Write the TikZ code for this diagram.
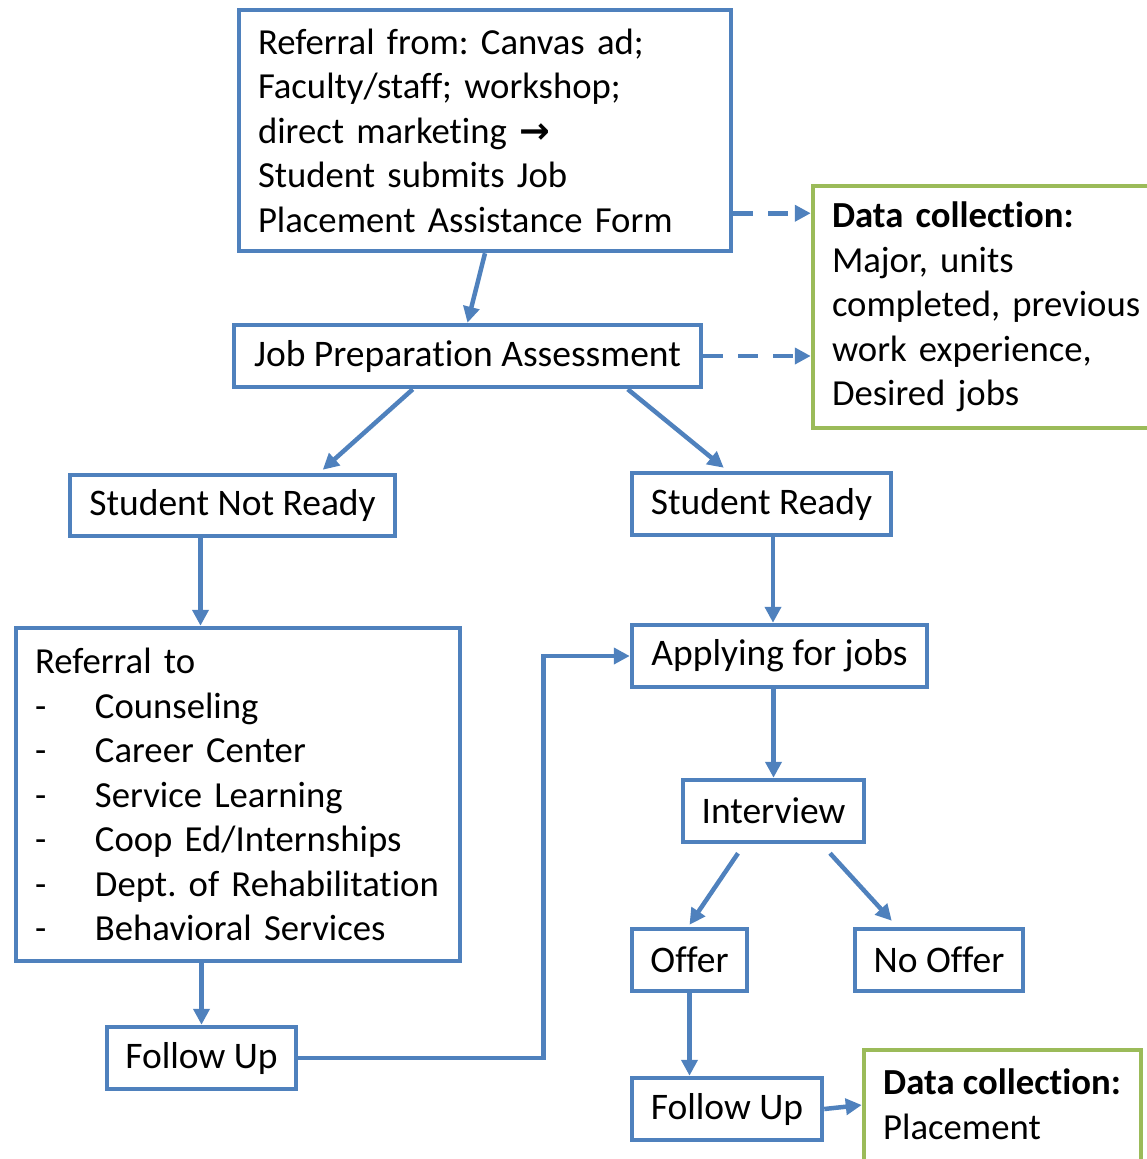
\documentclass[tikz,border=0pt]{standalone}
\usepackage{fontspec}
\setmainfont{Carlito}[Ligatures=NoCommon]
\newfontfamily\dgsym{DejaVu Sans}
\usetikzlibrary{arrows.meta,calc}
\definecolor{dgblue}{HTML}{4F81BD}
\definecolor{dggreen}{HTML}{9BBB59}
\newcommand\dgfs{\fontsize{36.7}{44.5}\selectfont\frenchspacing}
\newcommand\dgfsb{\fontsize{37.5}{44.5}\selectfont\frenchspacing}
\tikzset{
  bbox/.style={draw=dgblue, line width=4.5pt, rectangle, inner sep=0pt, font=\dgfsb, fill=white},
  gbox/.style={draw=dggreen, line width=4.5pt, rectangle, inner sep=0pt, font=\dgfs, fill=white},
  mline/.style={font=\dgfs, inner xsep=19pt, align=left},
  arr/.style={draw=dgblue, line width=4.5pt, -{Triangle[length=16pt,width=16pt]}},
  darr/.style={draw=dgblue, line width=4.5pt, dash pattern=on 20pt off 15pt, -{Triangle[length=16pt,width=16pt]}},
}
\begin{document}
\begin{tikzpicture}[x=1pt,y=-1pt]
\useasboundingbox (0,0) rectangle (1147,1159);
\clip (0,0) rectangle (1147,1159);
% boxes
\node[bbox, mline, minimum width=492pt, minimum height=241pt, text width=454pt] (top) at (485,130.5)
  {Referral from: Canvas ad;\\Faculty/staff; workshop;\\direct marketing {\dgsym\bfseries →}\\Student submits Job\\Placement Assistance Form};
\node[gbox, mline, minimum width=350pt, minimum height=242pt, text width=312pt] (dc1) at (988,307)
  {\textbf{Data collection:}\\Major, units\\completed, previous\\work experience,\\Desired jobs};
\node[bbox, minimum width=467pt, minimum height=62pt] (jpa) at (467.5,356) {Job Preparation Assessment};
\node[bbox, minimum width=325pt, minimum height=61pt] (snr) at (232.5,505.5) {Student Not Ready};
\node[bbox, minimum width=259pt, minimum height=62pt] (sr) at (761.5,504) {Student Ready};
\node[bbox, mline, minimum width=444pt, minimum height=333pt, text width=406pt] (ref) at (238,794.5)
  {Referral to\\
   \mbox{\makebox[60pt][l]{-}Counseling}\\
   \mbox{\makebox[60pt][l]{-}Career Center}\\
   \mbox{\makebox[60pt][l]{-}Service Learning}\\
   \mbox{\makebox[60pt][l]{-}Coop Ed/Internships}\\
   \mbox{\makebox[60pt][l]{-}Dept. of Rehabilitation}\\
   \mbox{\makebox[60pt][l]{-}Behavioral Services}};
\node[bbox, minimum width=295pt, minimum height=62pt] (app) at (779.5,656) {Applying for jobs};
\node[bbox, minimum width=181pt, minimum height=62pt] (int) at (773.5,811) {Interview};
\node[bbox, minimum width=115pt, minimum height=62pt] (offer) at (689.5,960) {Offer};
\node[bbox, minimum width=168pt, minimum height=62pt] (nooffer) at (939,960) {No Offer};
\node[bbox, minimum width=189pt, minimum height=62pt] (fu1) at (201.5,1058) {Follow Up};
\node[bbox, minimum width=190pt, minimum height=62pt] (fu2) at (727,1109) {Follow Up};
\node[gbox, minimum width=277pt, minimum height=123pt] (dc2) at (1002.5,1111.5) {};
\node[anchor=west, inner sep=0pt, align=left, font=\dgfs] (dc2t) at (883,1104)
  {\textbf{Data collection:}\\Placement};
% connectors
\draw[arr] (top.south) -- (jpa.north);
\coordinate (d1s) at ([yshift=40pt]top.south east);
\draw[darr] (d1s) -- (d1s -| dc1.west);
\draw[darr] (jpa.east) -- (jpa.east -| dc1.west);
\draw[arr] ([xshift=181pt]jpa.south west) -- ([xshift=255pt,yshift=3pt]snr.north west);
\draw[arr] ([xshift=396pt]jpa.south west) -- ([xshift=94pt,yshift=3pt]sr.north west);
\coordinate (a1) at ([xshift=-32pt]snr.south);
\draw[arr] (a1) -- (a1 |- ref.north);
\coordinate (a2) at ([xshift=11.5pt]sr.south);
\draw[arr] (a2) -- (a2 |- app.north);
\draw[arr] (fu1.north |- ref.south) -- (fu1.north);
\draw[arr] (fu1.east) -- ++(245,0) |- (app.west);
\draw[arr] (int.north |- app.south) -- (int.north);
\draw[arr] ([xshift=-35.5pt,yshift=-9pt]int.south) -- ([yshift=2pt]offer.north);
\draw[arr] ([xshift=56.5pt,yshift=-9pt]int.south) -- ([xshift=39pt,yshift=6pt]nooffer.north west);
\draw[arr] (offer.south) -- (offer.south |- fu2.north);
\draw[arr] (fu2.east) -- ([yshift=6.5pt]dc2.west);
\end{tikzpicture}
\end{document}
